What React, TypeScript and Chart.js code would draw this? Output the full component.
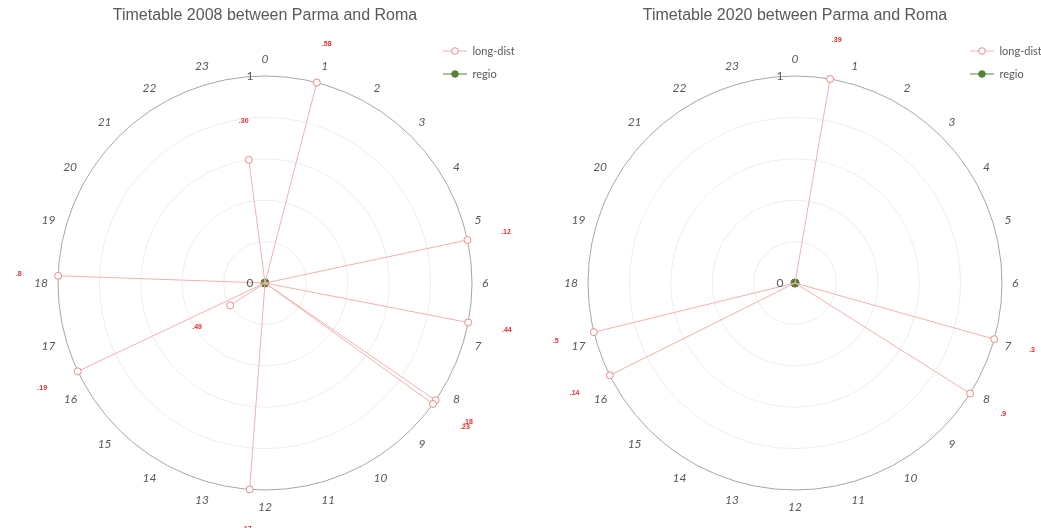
import React, { useEffect, useRef } from 'react';
import { Chart, registerables } from 'chart.js';

Chart.register(...registerables);

// ---- data ----
const hourLabels = ['0', '1', '2', '3', '4', '5', '6', '7', '8', '9', '10', '11', '12', '13', '14', '15', '16', '17', '18', '19', '20', '21', '22', '23'];
const radialTickValues = [0, 1];
const radialTickLabels = ['0', '1'];
const seriesNames = ['long-dist', 'regio'];

const title2008 = 'Timetable 2008 between Parma and Roma';
const longTimes2008 = ['0:58', '5:12', '6:44', '8:18', '8:23', '12:17', '15:49', '16:19', '18:08', '23:30'];
const longValues2008 = [1, 1, 1, 1, 1, 1, 0.2, 1, 1, 0.6];
const longTags2008 = ['.58', '.12', '.44', '.18', '.23', '.17', '.49', '.19', '.8', '.30'];
const regioTimes2008 = ['0:00'];
const regioValues2008 = [0];

const title2020 = 'Timetable 2020 between Parma and Roma';
const longTimes2020 = ['0:39', '7:03', '8:09', '16:14', '17:05'];
const longValues2020 = [1, 1, 1, 1, 1];
const longTags2020 = ['.39', '.3', '.9', '.14', '.5'];
const regioTimes2020 = ['0:00'];
const regioValues2020 = [0];

// ---- helpers ----
const MINUTES = 1440;
const minuteLabels: string[] = Array.from({ length: MINUTES }, (_, i) => `${Math.floor(i / 60)}:${String(i % 60).padStart(2, '0')}`);

function toMinute(t: string): number {
  const [h, m] = t.split(':').map(Number);
  return h * 60 + m;
}

function buildSeries(times: string[], values: number[]): (number | null)[] {
  const arr: (number | null)[] = new Array(MINUTES).fill(null);
  times.forEach((t, k) => {
    const m = toMinute(t);
    const prev = (m + MINUTES - 1) % MINUTES;
    if (arr[prev] === null) arr[prev] = 0;
    arr[m] = values[k];
  });
  return arr;
}

function makeLegendIcon(line: string, border: string, fill: string): HTMLCanvasElement {
  const c = document.createElement('canvas');
  c.width = 24;
  c.height = 10;
  const g = c.getContext('2d')!;
  g.strokeStyle = line;
  g.lineWidth = 1;
  g.beginPath();
  g.moveTo(0, 5);
  g.lineTo(24, 5);
  g.stroke();
  g.beginPath();
  g.arc(12, 5, 3.3, 0, Math.PI * 2);
  g.fillStyle = fill;
  g.fill();
  g.strokeStyle = border;
  g.stroke();
  return c;
}

const GRAY = '#595959';
const LONG_LINE = '#f2b0b0';
const LONG_POINT = '#e8898b';
const REGIO = '#548235';
const TAG_COLOR = '#e0302c';

interface PolarProps {
  title: string;
  times: string[];
  values: number[];
  tags: string[];
  regioTimes: string[];
  regioValues: number[];
  left: number;
  legendX: number;
}

function PolarChart(props: PolarProps) {
  const ref = useRef<HTMLCanvasElement>(null);
  useEffect(() => {
    const { title, times, values, tags, regioTimes, regioValues, legendX } = props;
    const icons = [makeLegendIcon(LONG_LINE, LONG_POINT, '#ffffff'), makeLegendIcon(REGIO, REGIO, REGIO)];

    const overlay = {
      id: 'overlay',
      afterLayout(chart: any) {
        const lg = chart.legend;
        if (lg) {
          lg.left = legendX;
          lg.top = 33.5;
        }
      },
      afterDatasetsDraw(chart: any) {
        const scale = chart.scales.r;
        const ctx = chart.ctx;
        ctx.save();
        // radial tick labels
        ctx.font = "12px Lato";
        ctx.fillStyle = GRAY;
        ctx.textAlign = 'center';
        ctx.textBaseline = 'middle';
        radialTickValues.forEach((v, i) => {
          const d = scale.getDistanceFromCenterForValue(v);
          ctx.fillText(radialTickLabels[i], scale.xCenter - 15, scale.yCenter - d);
        });
        // data tags
        ctx.font = "bold 7px 'Liberation Sans'";
        ctx.fillStyle = TAG_COLOR;
        times.forEach((t, k) => {
          const idx = toMinute(t);
          const p = scale.getPointPosition(idx, scale.getDistanceFromCenterForValue(values[k] + 0.19));
          ctx.fillText(tags[k], p.x, p.y);
        });
        ctx.restore();
      },
    };

    const chart = new Chart(ref.current!, {
      type: 'radar',
      data: {
        labels: minuteLabels,
        datasets: [
          {
            label: seriesNames[0],
            data: buildSeries(times, values),
            borderColor: LONG_LINE,
            borderWidth: 1,
            backgroundColor: 'transparent',
            fill: false,
            spanGaps: false,
            pointBackgroundColor: '#ffffff',
            pointBorderColor: LONG_POINT,
            pointBorderWidth: 1,
            pointRadius: (c: any) => (c.raw ? 3.5 : 0),
            pointHoverRadius: 0,
          },
          {
            label: seriesNames[1],
            data: buildSeries(regioTimes, regioValues),
            borderColor: REGIO,
            borderWidth: 1,
            backgroundColor: REGIO,
            fill: false,
            spanGaps: false,
            pointBackgroundColor: REGIO,
            pointBorderColor: REGIO,
            pointRadius: (c: any) => (c.raw === 0 ? 4 : 0),
            pointHoverRadius: 0,
          },
        ],
      },
      options: {
        animation: false,
        responsive: false,
        events: [],
        layout: { padding: { top: 0, bottom: 12.6, left: 0, right: 0 } },
        scales: {
          r: {
            min: 0,
            max: 1,
            ticks: { display: false, stepSize: 0.2 },
            angleLines: { display: false },
            grid: {
              circular: true,
              lineWidth: 1,
              color: (c: any) => (c.tick && c.tick.value === 1 ? '#a6a6a6' : '#ededed'),
            },
            pointLabels: {
              display: true,
              padding: 10,
              color: GRAY,
              font: { family: 'Lato', size: 12, style: 'italic' },
              callback: (_label: string, index: number) => (index % 60 === 0 ? hourLabels[index / 60] : ''),
            },
          },
        },
        plugins: {
          title: {
            display: true,
            text: title,
            color: GRAY,
            font: { family: 'Liberation Sans', size: 16, weight: 'normal' },
            padding: { top: 6, bottom: 27.4 },
          },
          legend: {
            display: true,
            position: 'chartArea',
            align: 'start',
            labels: {
              usePointStyle: true,
              pointStyleWidth: 24,
              padding: 12,
              color: GRAY,
              font: { family: 'Lato', size: 11 },
              generateLabels: (ch: any) =>
                ch.data.datasets.map((ds: any, i: number) => ({
                  text: ds.label,
                  pointStyle: icons[i],
                  fillStyle: 'transparent',
                  strokeStyle: 'transparent',
                  lineWidth: 0,
                  hidden: false,
                  datasetIndex: i,
                  fontColor: GRAY,
                })),
            },
          },
          tooltip: { enabled: false },
        },
      } as any,
      plugins: [overlay],
    });
    return () => chart.destroy();
  }, []);

  return (
    <canvas
      ref={ref}
      width={530}
      height={528}
      style={{ position: 'absolute', left: props.left, top: 0, width: 530, height: 528 }}
    />
  );
}

export default function App() {
  return (
    <div style={{ position: 'fixed', left: 0, top: 0, width: 1041, height: 528, overflow: 'hidden', background: '#ffffff' }}>
      <PolarChart
        title={title2008}
        times={longTimes2008}
        values={longValues2008}
        tags={longTags2008}
        regioTimes={regioTimes2008}
        regioValues={regioValues2008}
        left={0}
        legendX={431}
      />
      <PolarChart
        title={title2020}
        times={longTimes2020}
        values={longValues2020}
        tags={longTags2020}
        regioTimes={regioTimes2020}
        regioValues={regioValues2020}
        left={530}
        legendX={428}
      />
    </div>
  );
}
